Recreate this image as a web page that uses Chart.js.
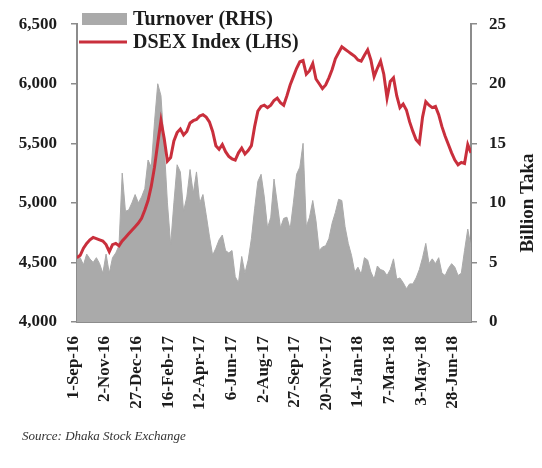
<!DOCTYPE html>
<html>
<head>
<meta charset="utf-8">
<script src="https://cdn.jsdelivr.net/npm/chart.js@4/dist/chart.umd.min.js"></script>
<style>
  html, body { margin: 0; padding: 0; background: #fff; }
  #wrap { width: 542px; height: 468px; }
</style>
</head>
<body>
<div id="wrap"><canvas id="c" width="542" height="468"></canvas></div>
<script>
// Dates shown on the horizontal axis (every tenth sample, roughly)
const tickLabels = ['1-Sep-16', '2-Nov-16', '27-Dec-16', '16-Feb-17', '12-Apr-17', '6-Jun-17',
  '2-Aug-17', '27-Sep-17', '20-Nov-17', '14-Jan-18', '7-Mar-18', '3-May-18', '28-Jun-18'];

// DSEX index level, left axis
const dsex = [
  4540, 4560, 4620, 4660, 4690, 4710, 4700, 4690, 4680, 4650,
  4590, 4650, 4660, 4640, 4680, 4710, 4740, 4770, 4800, 4830,
  4870, 4940, 5020, 5140, 5300, 5500, 5690, 5540, 5350, 5380,
  5520, 5590, 5620, 5570, 5600, 5670, 5690, 5700, 5730, 5740,
  5720, 5680, 5600, 5480, 5450, 5490, 5430, 5390, 5370, 5360,
  5420, 5460, 5410, 5440, 5480, 5640, 5770, 5810, 5820, 5800,
  5820, 5860, 5880, 5840, 5820, 5900, 5990, 6060, 6130, 6185,
  6195, 6080, 6110, 6170, 6040, 6000, 5960, 5990, 6050, 6120,
  6210, 6260, 6310, 6290, 6270, 6250, 6230, 6200, 6190, 6240,
  6285, 6200, 6060, 6130, 6190, 6080, 5880, 6020, 6050, 5900,
  5800, 5830, 5780, 5680, 5600, 5530, 5500, 5720, 5850, 5820,
  5800, 5810, 5740, 5640, 5560, 5490, 5420, 5360, 5320, 5340,
  5330, 5490, 5420
];

// Turnover in billion Taka, right axis
const turnover = [
  5.2, 5.4, 4.8, 5.7, 5.3, 5.0, 5.4, 4.9, 4.1, 5.7,
  4.1, 5.4, 5.8, 6.4, 12.5, 9.3, 9.4, 10.0, 10.7, 10.0,
  10.5, 11.2, 13.6, 13.0, 16.8, 20.0, 19.0, 14.8, 10.0, 6.5,
  10.0, 13.2, 12.6, 9.3, 10.5, 12.8, 10.8, 12.6, 10.0, 10.7,
  9.0, 7.2, 5.6, 6.2, 6.9, 7.3, 6.0, 5.8, 6.0, 3.8,
  3.3, 5.5, 4.1, 5.2, 7.0, 9.5, 11.8, 12.4, 10.5, 7.9,
  8.8, 12.0, 10.0, 7.9, 8.7, 8.8, 7.8, 10.0, 12.4, 13.0,
  15.0, 8.0, 8.8, 10.2, 8.5, 6.0, 6.3, 6.4, 7.0, 8.3,
  9.2, 10.3, 10.2, 8.0, 6.6, 5.6, 4.2, 4.6, 4.0, 5.4,
  5.2, 4.2, 3.6, 4.7, 4.4, 4.3, 3.9, 4.4, 5.3, 3.6,
  3.7, 3.3, 2.8, 3.2, 3.2, 3.7, 4.4, 5.4, 6.6, 4.9,
  5.3, 4.9, 5.4, 4.1, 3.9, 4.5, 4.9, 4.6, 3.9, 4.1,
  6.0, 7.8, 6.3
];

const SERIF = "'Liberation Serif', 'Times New Roman', serif";
const AXIS_GREY = '#8c8c8c';
const TEXT = '#1c1c1c';
const RED = '#c92f3c';
const GREY_FILL = '#aaaaaa';

// sample index at which each date label sits
const tickPos = tickLabels.map((_, j) => 1 + j * 9.8);

const toPoints = arr => arr.map((v, i) => ({ x: i, y: v }));

// legend, right-axis title and source note
const decorations = {
  id: 'decorations',
  afterDraw(chart) {
    const ctx = chart.ctx;
    const ds = chart.data.datasets;
    ctx.save();
    ctx.fillStyle = TEXT;
    ctx.textBaseline = 'middle';
    ctx.textAlign = 'left';
    ctx.font = 'bold 20px ' + SERIF;

    // turnover swatch
    ctx.fillStyle = ds[0].backgroundColor;
    ctx.fillRect(82, 13, 45, 12);
    ctx.fillStyle = TEXT;
    ctx.fillText(ds[0].label, 133, 20);

    // index swatch
    ctx.strokeStyle = ds[1].borderColor;
    ctx.lineWidth = 3;
    ctx.beginPath();
    ctx.moveTo(79, 42);
    ctx.lineTo(127, 42);
    ctx.stroke();
    ctx.fillText(ds[1].label, 133, 43);

    // right axis title
    ctx.save();
    ctx.translate(528, 203);
    ctx.rotate(-Math.PI / 2);
    ctx.textAlign = 'center';
    ctx.font = 'bold 19px ' + SERIF;
    ctx.fillText('Billion Taka', 0, 0);
    ctx.restore();

    // source line
    ctx.font = 'italic 13px ' + SERIF;
    ctx.fillStyle = '#333';
    ctx.fillText('Source: Dhaka Stock Exchange', 22, 437);
    ctx.restore();
  }
};

new Chart(document.getElementById('c'), {
  type: 'line',
  data: {
    datasets: [
      {
        label: 'Turnover (RHS)',
        data: toPoints(turnover),
        yAxisID: 'y1',
        fill: 'origin',
        backgroundColor: GREY_FILL,
        borderColor: GREY_FILL,
        borderWidth: 1,
        pointRadius: 0,
        tension: 0,
        order: 2
      },
      {
        label: 'DSEX Index (LHS)',
        data: toPoints(dsex),
        yAxisID: 'y',
        fill: false,
        borderColor: RED,
        borderWidth: 3,
        pointRadius: 0,
        tension: 0,
        order: 1
      }
    ]
  },
  options: {
    responsive: false,
    animation: false,
    devicePixelRatio: 1,
    layout: { padding: { top: 20, left: 0, right: 0, bottom: 0 } },
    plugins: { legend: { display: false }, tooltip: { enabled: false } },
    scales: {
      x: {
        type: 'linear',
        min: 0,
        max: 122,
        afterBuildTicks: s => { s.ticks = tickPos.map(v => ({ value: v })); },
        afterFit: s => { s.height = 146; },
        ticks: {
          autoSkip: false,
          minRotation: 90,
          maxRotation: 90,
          labelOffset: -7,
          padding: 6,
          color: TEXT,
          font: { family: SERIF, size: 17, weight: 'bold' },
          callback: (v, idx) => tickLabels[idx]
        },
        grid: { display: false },
        border: { display: true, color: AXIS_GREY, width: 2 }
      },
      y: {
        position: 'left',
        min: 4000,
        max: 6500,
        afterFit: s => { s.width = 77; },
        ticks: {
          stepSize: 500,
          padding: 14,
          color: TEXT,
          font: { family: SERIF, size: 17, weight: 'bold' },
          callback: v => v.toLocaleString('en-US')
        },
        grid: { drawOnChartArea: false, drawTicks: true, tickLength: 6, color: AXIS_GREY, lineWidth: 1.5 },
        border: { display: true, color: AXIS_GREY, width: 2 }
      },
      y1: {
        position: 'right',
        min: 0,
        max: 25,
        afterFit: s => { s.width = 71; },
        ticks: {
          stepSize: 5,
          padding: 12,
          color: TEXT,
          font: { family: SERIF, size: 17, weight: 'bold' }
        },
        grid: { drawOnChartArea: false, drawTicks: true, tickLength: 6, color: AXIS_GREY, lineWidth: 1.5 },
        border: { display: true, color: AXIS_GREY, width: 2 }
      }
    }
  },
  plugins: [decorations]
});
</script>
</body>
</html>
